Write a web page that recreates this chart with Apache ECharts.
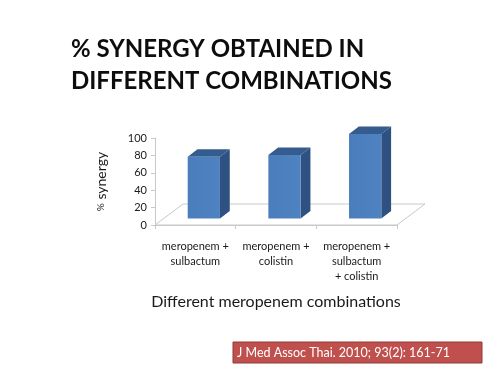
<!DOCTYPE html>
<html>
<head>
<meta charset="utf-8">
<script src="https://cdn.jsdelivr.net/npm/echarts@6/dist/echarts.min.js"></script>
<style>
  html, body { margin: 0; padding: 0; background: #fff; }
  #chart { width: 502px; height: 376px; }
</style>
</head>
<body>
<div id="chart"></div>
<script>
// 数据
const categories = ['meropenem +\nsulbactum', 'meropenem +\ncolistin', 'meropenem +\nsulbactum\n+ colistin']
const synergy = [71, 73, 97]
const yMin = 0
const yMax = 100
const yStep = 20

const FONT = 'Lato'

// 3D 效果的偏移（像素）
const FLOOR_DX = 28, FLOOR_DY = -21
const BAR_OFF_X = 8.5, BAR_OFF_Y = -6.5
const BAR_DX = 9.8, BAR_DY = -7.5

const chart = echarts.init(document.getElementById('chart'))

// 地板
const renderFloor = (params, api) => {
  const p0 = api.coord([0, 0])
  const bw = api.size([1, 0])[0]
  const left = p0[0] - bw / 2
  const right = left + bw * categories.length
  const y = p0[1]
  return {
    type: 'polygon',
    shape: {
      points: [[left, y], [right, y], [right + FLOOR_DX, y + FLOOR_DY], [left + FLOOR_DX, y + FLOOR_DY]]
    },
    style: { fill: '#ffffff', stroke: '#c9c9c9', lineWidth: 1 },
    silent: true
  }
}

// 立体柱子
const renderBar = (params, api) => {
  const idx = api.value(0)
  const base = api.coord([idx, 0])
  const top = api.coord([idx, api.value(1)])
  const bw = api.size([1, 0])[0] * 0.4
  const x0 = base[0] - bw / 2 + BAR_OFF_X
  const x1 = x0 + bw
  const yb = base[1] + BAR_OFF_Y
  const yt = top[1] + BAR_OFF_Y
  return {
    type: 'group',
    children: [
      {
        type: 'polygon',
        shape: { points: [[x1, yb], [x1, yt], [x1 + BAR_DX, yt + BAR_DY], [x1 + BAR_DX, yb + BAR_DY]] },
        style: { fill: '#2e5181' }
      },
      {
        type: 'polygon',
        shape: { points: [[x0, yt], [x1, yt], [x1 + BAR_DX, yt + BAR_DY], [x0 + BAR_DX, yt + BAR_DY]] },
        style: { fill: '#345c8e' }
      },
      {
        type: 'rect',
        shape: { x: x0, y: yt, width: bw, height: yb - yt },
        style: {
          fill: new echarts.graphic.LinearGradient(0, 0, 1, 0, [
            { offset: 0, color: '#4a7dbb' },
            { offset: 1, color: '#4f82c0' }
          ])
        }
      }
    ]
  }
}

const option = {
  animation: false,
  backgroundColor: '#ffffff',
  textStyle: { fontFamily: FONT },
  title: {
    text: '% SYNERGY OBTAINED IN\nDIFFERENT COMBINATIONS',
    left: 66,
    top: 28,
    textStyle: {
      fontFamily: FONT,
      fontSize: 24,
      fontWeight: 'bold',
      color: '#0d0d0d',
      lineHeight: 32
    }
  },
  grid: {
    left: 155,
    right: 105,
    top: 138,
    bottom: 151
  },
  xAxis: {
    type: 'category',
    data: categories,
    name: 'Different meropenem combinations',
    nameLocation: 'middle',
    nameGap: 69,
    nameTextStyle: { fontFamily: FONT, fontSize: 16, color: '#1a1a1a' },
    axisLine: { show: true, lineStyle: { color: '#c9c9c9' } },
    axisTick: { show: true, length: 4, lineStyle: { color: '#c9c9c9' } },
    axisLabel: {
      interval: 0,
      fontFamily: FONT,
      fontSize: 11,
      color: '#1a1a1a',
      lineHeight: 15,
      margin: 14
    },
    splitLine: { show: false }
  },
  yAxis: {
    type: 'value',
    min: yMin,
    max: yMax,
    interval: yStep,
    name: '{p|%} synergy',
    nameLocation: 'middle',
    nameGap: 47,
    nameRotate: 90,
    nameTextStyle: {
      fontFamily: FONT,
      fontSize: 14,
      color: '#1a1a1a',
      rich: { p: { fontFamily: FONT, fontSize: 10, color: '#1a1a1a' } }
    },
    axisLine: { show: true, lineStyle: { color: '#c9c9c9' } },
    axisTick: { show: true, length: 4, lineStyle: { color: '#c9c9c9' } },
    axisLabel: { fontFamily: FONT, fontSize: 11, color: '#1a1a1a', margin: 8 },
    splitLine: { show: false }
  },
  series: [
    {
      type: 'custom',
      renderItem: renderFloor,
      data: [[0, 0]],
      z: 1,
      silent: true
    },
    {
      type: 'custom',
      renderItem: renderBar,
      data: synergy.map((v, i) => [i, v]),
      z: 2
    }
  ],
  graphic: [
    {
      type: 'rect',
      shape: { x: 233, y: 342, width: 249, height: 21 },
      style: { fill: '#c0504d', stroke: '#8e3b39', lineWidth: 1 }
    },
    {
      type: 'text',
      x: 237,
      y: 352.5,
      style: {
        text: 'J Med Assoc Thai. 2010; 93(2): 161-71',
        fontFamily: FONT,
        fontSize: 12.5,
        fill: '#ffffff',
        verticalAlign: 'middle'
      }
    }
  ]
}

chart.setOption(option)

window.addEventListener('resize', () => {
  chart.resize()
})
</script>
</body>
</html>
